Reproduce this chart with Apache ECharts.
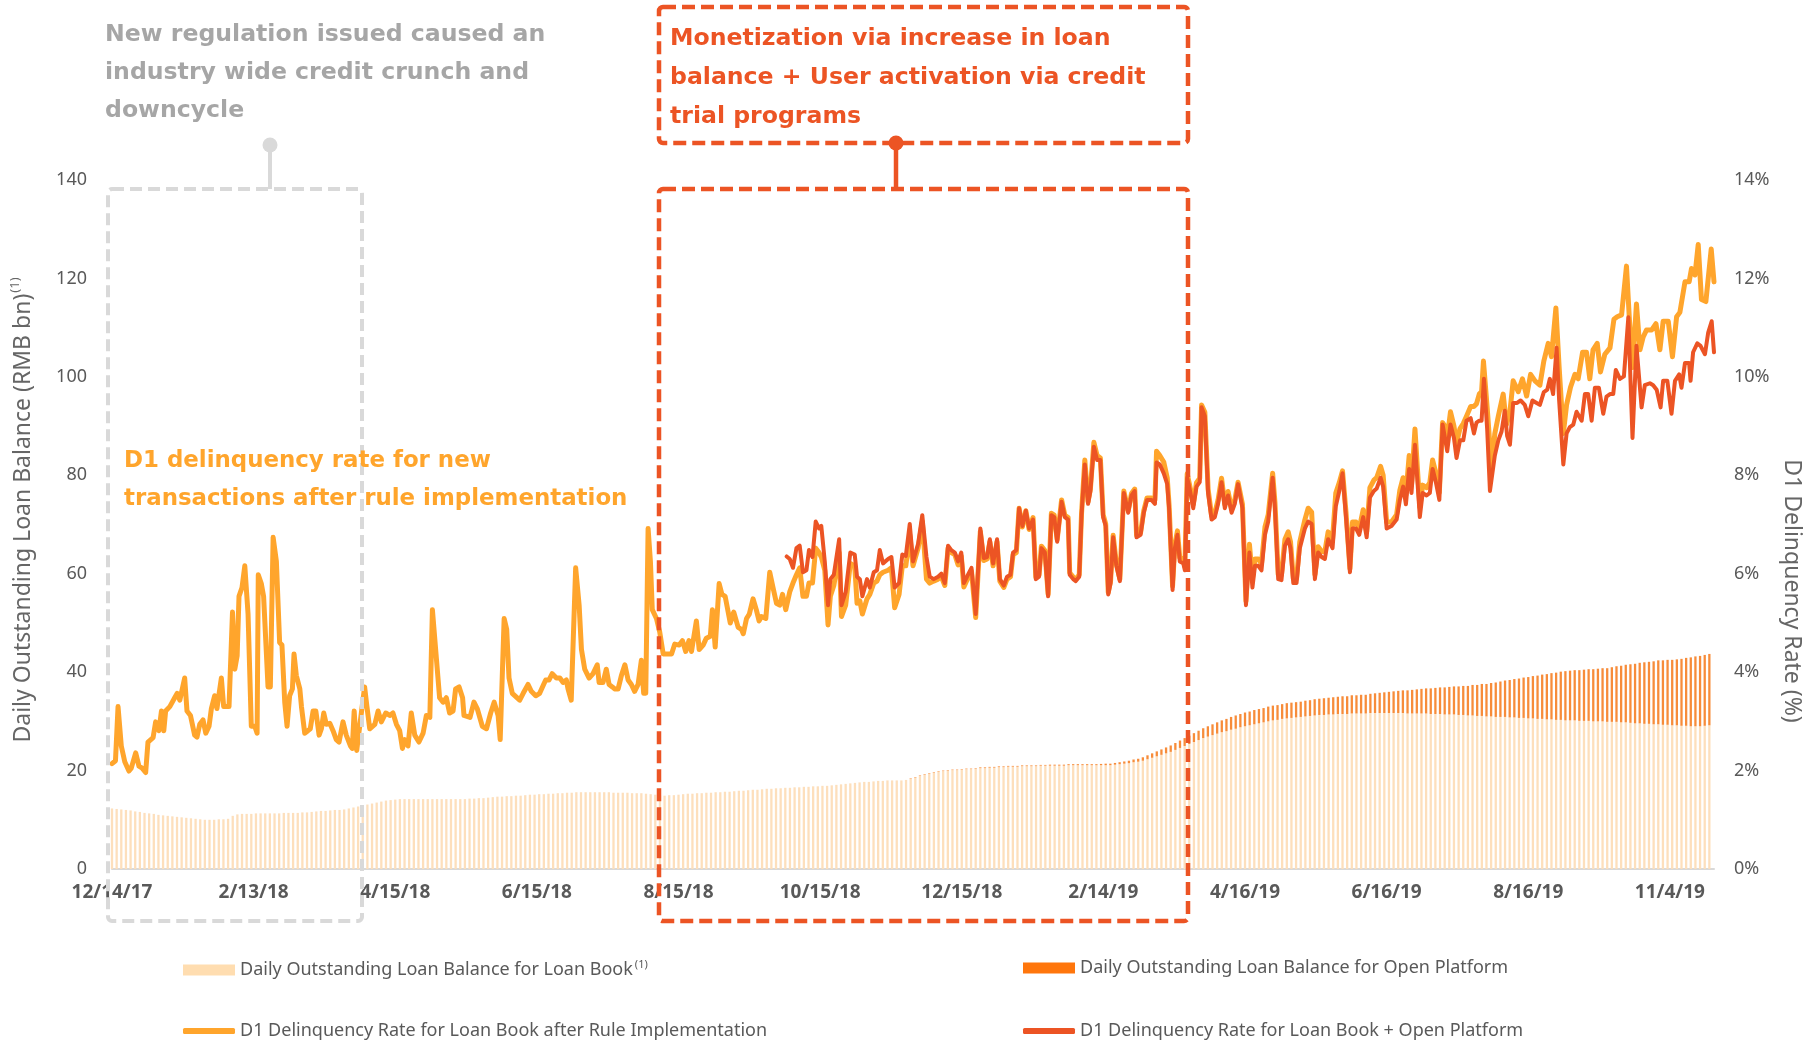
<!DOCTYPE html>
<html>
<head>
<meta charset="utf-8">
<title>Daily loan balance and D1 delinquency</title>
<script src="https://cdn.jsdelivr.net/npm/echarts@6/dist/echarts.min.js"></script>
<style>
  html, body { margin: 0; padding: 0; background: #fff; }
  #chart { width: 1816px; height: 1045px; }
</style>
</head>
<body>
<div id="chart"></div>
<script>
// x values are days since 12/14/17, one tick label every 61 days
const dateLabels = ['12/14/17', '2/13/18', '4/15/18', '6/15/18', '8/15/18', '10/15/18',
  '12/15/18', '2/14/19', '4/16/19', '6/16/19', '8/16/19', '11/4/19']
const daysPerLabel = 61
const lastDay = 690

// daily outstanding balance (RMB bn), one bar every 2 days from day 0
const balanceStepDays = 2
const loanBookBalance = [
  12.3, 12.2, 12.1, 12.0, 11.9, 11.7, 11.6, 11.4, 11.3, 11.2, 11.0, 10.9, 10.8, 10.7, 10.6,
  10.5, 10.4, 10.3, 10.2, 10.1, 10.0, 10.0, 10.0, 10.1, 10.1, 10.2, 10.8, 11.1, 11.2, 11.2,
  11.2, 11.3, 11.3, 11.3, 11.3, 11.3, 11.3, 11.4, 11.4, 11.4, 11.4, 11.5, 11.5, 11.6, 11.7,
  11.8, 11.8, 11.9, 12.0, 12.0, 12.1, 12.3, 12.5, 12.7, 12.9, 13.1, 13.3, 13.5, 13.7, 13.9,
  14.0, 14.1, 14.2, 14.2, 14.2, 14.2, 14.2, 14.2, 14.2, 14.2, 14.2, 14.2, 14.2, 14.2, 14.2,
  14.2, 14.2, 14.3, 14.3, 14.4, 14.4, 14.5, 14.6, 14.7, 14.7, 14.8, 14.8, 14.9, 14.9, 15.0,
  15.1, 15.1, 15.2, 15.2, 15.3, 15.3, 15.4, 15.4, 15.5, 15.5, 15.6, 15.6, 15.6, 15.6, 15.6,
  15.6, 15.6, 15.6, 15.5, 15.5, 15.5, 15.5, 15.4, 15.4, 15.4, 15.3, 15.2, 15.1, 15.0, 14.9,
  15.0, 15.0, 15.1, 15.2, 15.3, 15.3, 15.4, 15.4, 15.5, 15.5, 15.6, 15.6, 15.7, 15.7, 15.8,
  15.9, 15.9, 16.0, 16.1, 16.1, 16.2, 16.3, 16.3, 16.4, 16.4, 16.5, 16.5, 16.6, 16.6, 16.7,
  16.7, 16.8, 16.8, 16.9, 16.9, 17.0, 17.1, 17.2, 17.3, 17.4, 17.5, 17.6, 17.7, 17.7, 17.8,
  17.9, 17.9, 18.0, 18.0, 18.0, 18.0, 18.1, 18.3, 18.6, 18.9, 19.2, 19.4, 19.6, 19.8, 19.9,
  20.0, 20.1, 20.1, 20.2, 20.3, 20.3, 20.4, 20.5, 20.5, 20.6, 20.6, 20.7, 20.7, 20.8, 20.8,
  20.8, 20.9, 20.9, 20.9, 20.9, 21.0, 21.0, 21.0, 21.0, 21.0, 21.0, 21.1, 21.1, 21.1, 21.1,
  21.1, 21.1, 21.1, 21.1, 21.1, 21.1, 21.2, 21.3, 21.4, 21.5, 21.7, 21.8, 22.0, 22.3, 22.6,
  22.9, 23.2, 23.5, 23.8, 24.2, 24.6, 25.0, 25.4, 25.8, 26.2, 26.6, 26.9, 27.2, 27.5, 27.8,
  28.0, 28.3, 28.5, 28.8, 29.0, 29.2, 29.4, 29.6, 29.8, 30.0, 30.2, 30.3, 30.5, 30.6, 30.7,
  30.8, 30.9, 31.0, 31.1, 31.2, 31.3, 31.3, 31.4, 31.4, 31.5, 31.5, 31.5, 31.6, 31.6, 31.6,
  31.6, 31.7, 31.7, 31.7, 31.7, 31.7, 31.7, 31.7, 31.7, 31.6, 31.6, 31.6, 31.6, 31.6, 31.5,
  31.5, 31.5, 31.4, 31.4, 31.4, 31.3, 31.3, 31.2, 31.2, 31.1, 31.1, 31.0, 31.0, 30.9, 30.9,
  30.9, 30.8, 30.8, 30.7, 30.7, 30.6, 30.6, 30.5, 30.5, 30.4, 30.4, 30.3, 30.3, 30.2, 30.2,
  30.2, 30.1, 30.1, 30.1, 30.0, 30.0, 30.0, 29.9, 29.9, 29.9, 29.8, 29.8, 29.7, 29.6, 29.6,
  29.5, 29.5, 29.4, 29.4, 29.3, 29.3, 29.2, 29.2, 29.1, 29.1, 29.0, 29.0, 29.0, 29.1, 29.2
]
const openPlatformStartDay = 344
const openPlatformBalance = [
  0.1, 0.1, 0.1, 0.1, 0.1, 0.1, 0.1, 0.1, 0.1, 0.1, 0.1, 0.1, 0.1, 0.1, 0.1,
  0.15, 0.15, 0.15, 0.15, 0.15, 0.15, 0.15, 0.15, 0.15, 0.15, 0.15, 0.15, 0.15, 0.15, 0.15,
  0.2, 0.2, 0.2, 0.2, 0.2, 0.2, 0.2, 0.2, 0.2, 0.2, 0.2, 0.25, 0.3, 0.3, 0.35,
  0.4, 0.45, 0.5, 0.55, 0.6, 0.7, 0.8, 0.9, 1.0, 1.1, 1.2, 1.3, 1.4, 1.5, 1.6,
  1.7, 1.8, 1.9, 2.0, 2.1, 2.2, 2.3, 2.4, 2.5, 2.6, 2.7, 2.7, 2.8, 2.8, 2.9,
  2.9, 2.9, 3.0, 3.0, 3.0, 3.0, 3.1, 3.1, 3.1, 3.1, 3.2, 3.2, 3.3, 3.3, 3.4,
  3.4, 3.5, 3.5, 3.6, 3.6, 3.7, 3.7, 3.8, 3.8, 3.9, 4.0, 4.1, 4.2, 4.3, 4.4,
  4.5, 4.6, 4.7, 4.8, 4.9, 5.0, 5.1, 5.2, 5.3, 5.4, 5.5, 5.6, 5.7, 5.8, 5.9,
  6.0, 6.2, 6.3, 6.5, 6.6, 6.8, 7.0, 7.2, 7.4, 7.6, 7.8, 8.0, 8.2, 8.4, 8.6,
  8.8, 9.0, 9.2, 9.4, 9.6, 9.8, 10.0, 10.1, 10.2, 10.3, 10.4, 10.5, 10.6, 10.7, 10.8,
  10.9, 11.1, 11.3, 11.5, 11.7, 11.9, 12.1, 12.3, 12.5, 12.6, 12.8, 13.0, 13.1, 13.2, 13.3,
  13.4, 13.6, 13.8, 14.0, 14.2, 14.3, 14.4, 14.5
]

// D1 delinquency rate (%), [day, rate]
const loanBookRate = [
  [0, 2.14], [1.5, 2.2], [2.6, 3.30], [4, 2.50], [5.5, 2.18], [7.3, 1.99], [8.3, 2.05], [10.2, 2.36],
  [11.6, 2.09], [13, 2.05], [14.5, 1.96], [15.5, 2.58], [17.7, 2.67], [18.8, 2.99], [20.2, 2.81],
  [21.3, 3.21], [22.3, 2.81], [23.1, 3.21], [24.9, 3.30], [27, 3.48], [28.1, 3.57], [29.2, 3.43],
  [31.3, 3.88], [32.3, 3.21], [33.8, 3.12], [35.6, 2.72], [36.6, 2.68], [37.8, 2.94], [39.2, 3.03],
  [40.4, 2.76], [41.8, 2.90], [42.8, 3.26], [44.2, 3.52], [45.2, 3.26], [47.1, 3.88], [48.1, 3.30],
  [50.4, 3.30], [51.9, 5.22], [52.9, 4.06], [53.9, 4.33], [54.7, 5.54], [56, 5.72], [57.2, 6.16],
  [58.6, 5.18], [60, 2.90], [61.5, 2.90], [62.5, 2.76], [63, 5.98], [64.3, 5.80], [65.3, 5.54],
  [67.2, 3.70], [68.2, 3.70], [69.4, 6.74], [70.8, 6.25], [72.2, 4.60], [73.2, 4.55], [74.4, 3.39],
  [75.4, 2.90], [76.5, 3.52], [77.7, 3.66], [78.4, 4.37], [79.4, 3.93], [80.9, 3.66], [81.6, 3.30],
  [83, 2.76], [84.4, 2.81], [85.4, 2.85], [86.6, 3.21], [87.8, 3.21], [89.2, 2.72], [90.2, 2.85],
  [91.2, 3.17], [92.3, 2.94], [93.8, 2.96], [95.2, 2.81], [96.6, 2.63], [97.8, 2.58], [99.5, 2.99],
  [100.9, 2.72], [102.7, 2.50], [103.5, 2.45], [104.3, 3.21], [105.4, 2.41], [108.8, 3.70],
  [109.8, 3.30], [111, 2.85], [113.2, 2.94], [114.6, 3.21], [116, 2.99], [117.9, 3.17], [119.6, 3.12],
  [121, 3.17], [122.5, 2.94], [123.9, 2.81], [125.1, 2.45], [126.1, 2.63], [127.5, 2.50], [128.9, 3.17],
  [130.4, 2.72], [132.2, 2.58], [134, 2.76], [135.4, 3.12], [136.9, 3.08], [138, 5.27], [138.7, 5.27],
  [141.1, 3.48], [142.6, 3.39], [144, 3.48], [145.4, 3.17], [146.9, 3.21], [148, 3.66], [149.5, 3.70],
  [151, 3.48], [151.6, 3.12], [154.2, 3.08], [155.9, 3.39], [157.3, 3.26], [159.5, 2.90], [161.3, 2.85],
  [163.1, 3.17], [164.6, 3.39], [166.3, 3.12], [167.2, 2.63], [168.9, 5.09], [170, 4.87], [171, 3.88],
  [172.4, 3.57], [175.6, 3.43], [177.1, 3.57], [179.2, 3.75], [180.6, 3.61], [182.5, 3.52], [184.2, 3.57],
  [185.9, 3.75], [186.8, 3.84], [188.2, 3.84], [189.6, 3.97], [191.4, 3.88], [192.9, 3.88], [194.3, 3.79],
  [195.7, 3.84], [196.4, 3.66], [197.8, 3.43], [198.5, 3.43], [199.7, 6.12], [201.2, 5.36], [202.2, 4.46],
  [203.6, 4.06], [205.5, 3.88], [207.2, 3.97], [209, 4.15], [209.8, 3.79], [211.5, 3.79], [212.9, 4.06],
  [214.1, 3.75], [215.5, 3.70], [216.5, 3.66], [218, 3.66], [219.4, 3.93], [220.9, 4.15], [222.3, 3.84],
  [223.7, 3.75], [225.1, 3.61], [226.6, 3.75], [228, 4.24], [229, 3.57], [229.9, 3.57], [230.9, 6.92],
  [231.9, 6.25], [232.7, 5.27], [234.5, 5.09], [235.9, 4.82], [237.4, 4.37], [239.1, 4.37], [241, 4.37],
  [242.4, 4.57], [244.3, 4.55], [245.7, 4.64], [247.1, 4.42], [248.5, 4.64], [249.6, 4.42], [251.7, 5.04],
  [252.9, 4.46], [254.6, 4.55], [256, 4.69], [257.7, 4.73], [258.6, 5.27], [259.8, 4.51], [261.5, 5.80],
  [262.7, 5.58], [264.1, 5.54], [266.3, 5.00], [267.8, 5.22], [269.7, 4.91], [271.1, 4.87], [271.9, 4.78],
  [273.3, 5.09], [274.5, 5.18], [276.1, 5.49], [277.5, 5.27], [278.7, 5.04], [279.7, 5.13], [281.6, 5.09],
  [283.3, 6.03], [284.7, 5.72], [286.2, 5.40], [287.6, 5.36], [288.8, 5.58], [290.2, 5.27],
  [291.9, 5.63], [293.3, 5.81], [294.8, 5.98], [296.2, 6.12], [297.6, 5.54], [299.1, 5.54], [300.2, 5.81],
  [301.7, 5.81], [303.1, 6.52], [304.5, 6.43], [305.5, 6.34], [307, 6.07], [308.4, 4.96], [309.4, 5.54],
  [310.9, 5.76], [313.2, 6.43], [314.2, 5.13], [316, 5.36], [318, 6.21], [319.9, 6.16], [320.9, 5.40],
  [322.1, 5.45], [323.2, 5.18], [325.2, 5.49], [326.4, 5.58], [328.1, 5.81], [329.5, 5.85], [330.7, 5.98],
  [332.1, 6.03], [334.3, 6.07], [335.7, 6.12], [337.1, 5.31], [339, 5.58], [340.4, 6.16], [341.9, 6.16],
  [343.6, 6.79], [345, 6.16], [347.2, 6.52], [349, 7.06], [350.8, 5.89], [352.2, 5.81], [353.9, 5.85],
  [355.8, 5.89], [357.2, 5.94], [358.7, 5.76], [360.1, 6.52], [361.5, 6.43], [363, 6.39], [364.4, 6.18],
  [365.8, 6.36], [366.9, 5.73], [368.7, 5.92], [370.2, 6.05], [372, 5.11], [374, 6.86], [375.5, 6.27],
  [376.9, 6.30], [378.1, 6.65], [379.5, 6.16], [381.2, 6.65], [382.4, 5.85], [384.1, 5.72], [385.5, 5.89],
  [387, 5.94], [388.1, 6.39], [389.5, 6.43], [390.7, 7.33], [392.1, 6.95], [393.6, 7.28], [395, 6.90],
  [396.7, 7.14], [397.9, 5.93], [399.3, 5.98], [400.3, 6.56], [401.8, 6.47], [403.2, 5.58], [404.6, 7.23],
  [405.8, 7.19], [407.1, 6.69], [409, 7.50], [410.4, 7.19], [411.8, 7.14], [412.5, 6.02], [414, 5.93],
  [415.1, 5.89], [416.6, 5.98], [417.6, 7.23], [419, 8.31], [420.4, 7.46], [421.4, 7.72], [422.9, 8.67],
  [424.3, 8.40], [425.7, 8.35], [426.9, 7.20], [428, 7.01], [429.1, 5.62], [430.1, 5.85], [431.2, 6.78],
  [432.6, 6.20], [434.1, 5.89], [435.8, 7.68], [437.7, 7.28], [439.1, 7.63], [440.5, 7.72], [441.3, 6.78],
  [443, 6.83], [444.4, 7.28], [445.8, 7.54], [447.7, 7.54], [449.2, 7.50], [449.9, 8.49], [451.3, 8.40],
  [453, 8.27], [454.5, 7.95], [455.3, 7.40], [456.8, 5.75], [457.8, 6.60], [458.9, 6.87], [459.9, 6.33],
  [461.4, 6.29], [462.1, 6.15], [463.1, 8.03], [464.5, 7.72], [465.7, 7.41], [467.1, 7.85], [468.5, 7.94],
  [469.3, 9.43], [470.7, 9.28], [472.1, 7.72], [473.6, 7.18], [475, 7.23], [476.4, 7.50], [477.9, 7.94],
  [479.3, 7.41], [480.7, 7.67], [482.2, 7.32], [483.6, 7.50], [485, 7.86], [486.9, 7.41], [488.4, 5.44],
  [489.9, 6.60], [491.2, 5.90], [492.3, 6.30], [493.7, 6.30], [495.1, 6.20], [496.6, 6.95], [498, 7.20],
  [499.9, 8.04], [500.9, 7.45], [502.3, 5.98], [503.7, 5.98], [505.2, 6.70], [506.6, 6.85], [507.6, 6.65],
  [508.8, 5.90], [510.2, 5.90], [511.6, 6.65], [513.8, 7.10], [515.2, 7.33], [516.7, 7.25], [518.1, 5.98],
  [519.5, 6.55], [521, 6.45], [522.4, 6.45], [523.8, 6.85], [525.7, 6.70], [527.1, 7.64], [528.6, 7.85],
  [530, 8.09], [531.5, 7.25], [533.2, 6.10], [534.3, 7.05], [535.8, 7.05], [537.2, 6.92], [538.9, 7.30],
  [540.4, 6.85], [541.8, 7.75], [543.5, 7.90], [544.7, 7.95], [546.4, 8.18], [547.5, 8.00], [549, 7.05],
  [551.1, 7.05], [553.3, 7.20], [554.7, 7.70], [556.1, 7.95], [557.3, 7.60], [558.7, 8.40], [559.7, 7.80],
  [561.2, 8.94], [563.3, 7.35], [564.5, 7.80], [566.2, 7.75], [567.6, 7.85], [568.8, 8.31], [570.2, 8.05],
  [571.7, 7.65], [573.1, 9.07], [574.1, 9.00], [575.1, 8.75], [576.5, 9.29], [578, 9.00], [579.1, 8.65],
  [580.6, 8.95], [582, 9.05], [583.4, 9.20], [585.2, 9.40], [586.6, 9.40], [587.7, 9.45], [588.9, 9.65],
  [589.9, 9.70], [590.7, 10.32], [592.3, 9.38], [594.2, 8.13], [595.6, 8.85], [597.1, 9.20], [599.2, 9.65],
  [600.6, 9.03], [602.1, 9.29], [603.5, 9.92], [605.7, 9.70], [607.5, 9.96], [609.3, 9.61], [611, 10.05],
  [612.9, 9.92], [615, 9.83], [616.7, 10.32], [618.6, 10.68], [620, 10.41], [621.9, 11.40], [623.3, 10.19],
  [625.1, 8.85], [626.5, 9.43], [628.2, 9.79], [630.1, 10.05], [631.5, 9.96], [633.4, 10.50], [635.1, 10.50],
  [636.5, 9.96], [637.9, 10.55], [639.7, 10.68], [641.1, 10.10], [643, 10.46], [645.2, 10.59], [646.9, 11.17],
  [648.3, 11.22], [650.2, 11.26], [652.3, 12.25], [653.5, 11.22], [654.9, 10.19], [656.6, 11.48],
  [658.1, 10.55], [659.5, 10.81], [660.9, 10.95], [663.1, 10.95], [665, 11.08], [666.7, 10.55], [668.1, 11.13],
  [670.3, 11.13], [672.1, 10.41], [673.9, 11.22], [675.3, 11.31], [677.5, 11.93], [679.3, 11.93],
  [680.3, 12.20], [681.8, 12.07], [683.2, 12.69], [684.6, 11.57], [686.5, 11.53], [688.8, 12.60], [690, 11.93]
]
const combinedRate = [
  [290.6, 6.35], [291.9, 6.30], [293.3, 6.12], [294.8, 6.52], [296.2, 6.57], [297.6, 6.03], [299.1, 6.07],
  [300.2, 6.48], [301.7, 6.34], [303.1, 7.06], [304.5, 6.92], [305.5, 6.97], [307, 6.25], [308.4, 5.36],
  [309.4, 5.89], [310.9, 5.98], [313.2, 6.70], [314.2, 5.36], [316, 5.63], [318, 6.43], [319.9, 6.39],
  [320.9, 5.94], [322.1, 5.89], [323.2, 5.54], [325.2, 5.89], [326.4, 5.72], [328.1, 6.03], [329.5, 6.07],
  [330.7, 6.48], [332.1, 6.21], [334.3, 6.30], [335.7, 6.34], [337.1, 5.72], [339, 5.81], [340.4, 6.39],
  [341.9, 6.36], [343.6, 7.01], [345, 6.25], [347.2, 6.61], [349, 7.19], [350.8, 6.34], [352.2, 5.94],
  [353.9, 5.89], [355.8, 5.94], [357.2, 6.00], [358.7, 5.81], [360.1, 6.57], [361.5, 6.48], [363, 6.43],
  [364.4, 6.25], [365.8, 6.43], [366.9, 5.81], [368.7, 5.98], [370.2, 6.12], [372, 5.18], [374, 6.92],
  [375.5, 6.32], [376.9, 6.34], [378.1, 6.70], [379.5, 6.21], [381.2, 6.70], [382.4, 5.89], [384.1, 5.76],
  [385.5, 5.94], [387, 5.98], [388.1, 6.43], [389.5, 6.48], [390.7, 7.33], [392.1, 6.97], [393.6, 7.28],
  [395, 6.92], [396.7, 7.10], [397.9, 5.89], [399.3, 5.94], [400.3, 6.52], [401.8, 6.43], [403.2, 5.54],
  [404.6, 7.19], [405.8, 7.15], [407.1, 6.65], [409, 7.46], [410.4, 7.15], [411.8, 7.10], [412.5, 5.98],
  [414, 5.89], [415.1, 5.85], [416.6, 5.94], [417.6, 7.19], [419, 8.22], [420.4, 7.42], [421.4, 7.68],
  [422.9, 8.58], [424.3, 8.31], [425.7, 8.31], [426.9, 7.15], [428, 6.97], [429.1, 5.58], [430.1, 5.81],
  [431.2, 6.74], [432.6, 6.16], [434.1, 5.85], [435.8, 7.64], [437.7, 7.24], [439.1, 7.59], [440.5, 7.68],
  [441.3, 6.74], [443, 6.79], [444.4, 7.24], [445.8, 7.50], [447.7, 7.50], [449.2, 7.42], [449.9, 8.26],
  [451.3, 8.22], [453, 8.04], [454.5, 7.82], [455.3, 7.33], [456.8, 5.67], [457.8, 6.52], [458.9, 6.79],
  [459.9, 6.25], [461.4, 6.21], [462.1, 6.07], [463.1, 7.95], [464.5, 7.64], [465.7, 7.33], [467.1, 7.77],
  [468.5, 7.86], [469.3, 9.38], [470.7, 9.20], [472.1, 7.64], [473.6, 7.10], [475, 7.15], [476.4, 7.42],
  [477.9, 7.86], [479.3, 7.33], [480.7, 7.59], [482.2, 7.24], [483.6, 7.42], [485, 7.82], [486.9, 7.33],
  [488.4, 5.36], [489.9, 6.43], [491.2, 5.72], [492.3, 6.16], [493.7, 6.16], [495.1, 6.07], [496.6, 6.79],
  [498, 7.06], [499.9, 7.95], [500.9, 7.33], [502.3, 5.89], [503.7, 5.87], [505.2, 6.57], [506.6, 6.70],
  [507.6, 6.52], [508.8, 5.81], [510.2, 5.81], [511.6, 6.52], [513.8, 6.92], [515.2, 7.06], [516.7, 7.01],
  [518.1, 5.89], [519.5, 6.43], [521, 6.34], [522.4, 6.30], [523.8, 6.70], [525.7, 6.52], [527.1, 7.37],
  [528.6, 7.68], [530, 8.04], [531.5, 7.15], [533.2, 6.03], [534.3, 6.92], [535.8, 6.92], [537.2, 6.79],
  [538.9, 7.15], [540.4, 6.74], [541.8, 7.55], [543.5, 7.68], [544.7, 7.73], [546.4, 7.95], [547.5, 7.77],
  [549, 6.92], [551.1, 6.97], [553.3, 7.10], [554.7, 7.50], [556.1, 7.77], [557.3, 7.41], [558.7, 8.13],
  [559.7, 7.64], [561.2, 8.62], [563.3, 7.15], [564.5, 7.64], [566.2, 7.59], [567.6, 7.64], [568.8, 8.13],
  [570.2, 7.86], [571.7, 7.50], [573.1, 9.03], [574.1, 8.76], [575.1, 8.49], [576.5, 9.03], [578, 8.76],
  [579.1, 8.35], [580.6, 8.71], [582, 8.71], [583.4, 9.11], [585.2, 9.16], [586.6, 8.85], [587.7, 9.07],
  [588.9, 9.11], [589.9, 9.11], [590.9, 9.96], [592.3, 8.94], [593.5, 7.68], [595.6, 8.40], [597.1, 8.71],
  [598.5, 8.89], [599.9, 9.31], [600.9, 8.80], [602.1, 8.62], [603.5, 9.47], [605.2, 9.47], [606.7, 9.52],
  [608.5, 9.43], [610, 9.20], [611.8, 9.52], [613.6, 9.47], [615, 9.43], [616.7, 9.69], [618.2, 9.74],
  [619.3, 9.96], [620.7, 9.65], [622.2, 10.59], [623.3, 9.52], [625.1, 8.22], [626.5, 8.85], [627.9, 8.98],
  [629.4, 9.03], [630.8, 9.29], [633, 9.11], [634.4, 9.65], [635.8, 9.65], [637.3, 9.11], [638.7, 9.78],
  [640.4, 9.78], [642.3, 9.25], [643.7, 9.60], [645.2, 9.65], [646.6, 9.65], [647.7, 10.14], [649.5, 9.96],
  [651.2, 10.01], [653.1, 11.21], [654.9, 8.76], [656.6, 10.63], [658.8, 9.38], [660.2, 9.83], [662.4, 9.87],
  [663.8, 9.83], [665.3, 9.74], [667, 9.38], [668.1, 9.92], [669.9, 9.92], [671.7, 9.25], [673.2, 9.92],
  [675, 10.05], [676, 9.78], [677.5, 10.28], [679.3, 10.28], [679.9, 9.92], [681, 10.50], [682.8, 10.68],
  [684.2, 10.63], [686.1, 10.46], [687.5, 10.90], [689, 11.13], [690, 10.50]
]

const loanBookName = 'Daily Outstanding Loan Balance for Loan Book'
const openPlatformName = 'Daily Outstanding Loan Balance for Open Platform'
const loanBookRateName = 'D1 Delinquency Rate for Loan Book after Rule Implementation'
const combinedRateName = 'D1 Delinquency Rate for Loan Book + Open Platform'

const FONT = '"Noto Sans", "Liberation Sans", sans-serif'
const BOLD_FONT = '"DejaVu Sans", "Noto Sans", sans-serif'
const GREY_TEXT = '#595959'
const PEACH = '#FDDFBC'
const OPEN_ORANGE = '#F78C3A'
const LINE_ORANGE = '#FFA52C'
const LINE_RED = '#EC5424'
const BOX_GREY = '#D9D9D9'

const chart = echarts.init(document.getElementById('chart'), null, { renderer: 'canvas' })

// hidden category axis for the bars: one slot every 2 days, spanning day 0 .. lastDay
const barDays = []
for (let d = 0; d <= lastDay; d += balanceStepDays) barDays.push(String(d))
const openPlatformBars = barDays.map((d) => {
  const j = (Number(d) - openPlatformStartDay) / balanceStepDays
  return j >= 0 && j < openPlatformBalance.length ? openPlatformBalance[j] : 0
})

const legendBase = (left, top, name, color, h, icon) => ({
  left, top, padding: 0, selectedMode: false,
  itemWidth: 52, itemHeight: h, icon, itemGap: 0,
  data: [{ name, itemStyle: { color } }],
  formatter: (n) => n === loanBookName ? `{t|${n}}{s|(1)}` : `{t|${n}}`,
  textStyle: {
    fontFamily: FONT, fontSize: 18, color: GREY_TEXT,
    rich: {
      t: { fontFamily: FONT, fontSize: 18, color: GREY_TEXT, lineHeight: 22 },
      s: { fontFamily: FONT, fontSize: 11, color: GREY_TEXT, verticalAlign: 'top', lineHeight: 22, padding: [0, 0, 9, 2] }
    }
  }
})

const option = {
  animation: false,
  backgroundColor: '#ffffff',
  grid: { left: 112, right: 102, top: 180, bottom: 176 },
  legend: [
    legendBase(183, 959, loanBookName, '#FFDDB0', 11, 'rect'),
    legendBase(1023, 959, openPlatformName, '#FF760C', 11, 'rect'),
    legendBase(183, 1022, loanBookRateName, LINE_ORANGE, 6, 'roundRect'),
    legendBase(1023, 1022, combinedRateName, LINE_RED, 6, 'roundRect')
  ],
  xAxis: [
    {
      type: 'value',
      min: 0,
      max: lastDay,
      interval: daysPerLabel,
      axisLine: { show: true, onZero: false, lineStyle: { color: BOX_GREY, width: 2 } },
      axisTick: { show: false },
      splitLine: { show: false },
      axisLabel: {
        margin: 14,
        fontFamily: FONT,
        fontSize: 19,
        fontWeight: 'bold',
        color: GREY_TEXT,
        formatter: (value) => {
          const idx = Math.round(value / daysPerLabel)
          return Math.abs(value - idx * daysPerLabel) < 0.01 && dateLabels[idx] ? dateLabels[idx] : ''
        }
      }
    },
    {
      type: 'category',
      data: barDays,
      boundaryGap: false,
      show: false
    }
  ],
  yAxis: [
    {
      type: 'value', min: 0, max: 140, interval: 20,
      axisLine: { show: false }, axisTick: { show: false }, splitLine: { show: false },
      axisLabel: { margin: 25, fontFamily: FONT, fontSize: 18, color: GREY_TEXT }
    },
    {
      type: 'value', min: 0, max: 14, interval: 2, position: 'right',
      axisLine: { show: false }, axisTick: { show: false }, splitLine: { show: false },
      axisLabel: { margin: 20, fontFamily: FONT, fontSize: 18, color: GREY_TEXT, formatter: '{value}%' }
    }
  ],
  series: [
    {
      name: loanBookName, type: 'bar', stack: 'balance', xAxisIndex: 1, yAxisIndex: 0,
      barWidth: 2.3, data: loanBookBalance, itemStyle: { color: PEACH }, silent: true, z: 1
    },
    {
      name: openPlatformName, type: 'bar', stack: 'balance', xAxisIndex: 1, yAxisIndex: 0,
      barWidth: 2.3, data: openPlatformBars, itemStyle: { color: OPEN_ORANGE }, silent: true, z: 1
    },
    {
      name: loanBookRateName, type: 'line', xAxisIndex: 0, yAxisIndex: 1, data: loanBookRate,
      showSymbol: false, symbol: 'none', silent: true, z: 3,
      itemStyle: { color: LINE_ORANGE },
      lineStyle: { color: LINE_ORANGE, width: 5, join: 'round', cap: 'round' }
    },
    {
      name: combinedRateName, type: 'line', xAxisIndex: 0, yAxisIndex: 1, data: combinedRate,
      showSymbol: false, symbol: 'none', silent: true, z: 4,
      itemStyle: { color: LINE_RED },
      lineStyle: { color: LINE_RED, width: 4, join: 'round', cap: 'round' }
    }
  ],
  graphic: [
    // axis names
    {
      type: 'text', x: 23, y: 510, rotation: Math.PI / 2, z: 50,
      style: {
        text: '{a|Daily Outstanding Loan Balance (RMB bn)}{s|(1)}',
        align: 'center', verticalAlign: 'middle',
        rich: {
          a: { fontFamily: FONT, fontSize: 23, fill: '#666666', lineHeight: 28 },
          s: { fontFamily: FONT, fontSize: 13, fill: '#666666', verticalAlign: 'top', lineHeight: 28, padding: [0, 0, 12, 1] }
        }
      }
    },
    {
      type: 'text', x: 1792, y: 591, rotation: -Math.PI / 2, z: 50,
      style: {
        text: 'D1 Delinquency Rate (%)', align: 'center', verticalAlign: 'middle',
        font: `23px ${FONT}`, fill: '#666666'
      }
    },
    // grey annotation
    {
      type: 'rect', z: 60, silent: true,
      shape: { x: 108, y: 189, width: 254, height: 732, r: 4 },
      style: { fill: 'none', stroke: BOX_GREY, lineWidth: 4, lineDash: [12, 6] }
    },
    { type: 'line', z: 60, shape: { x1: 270, y1: 145, x2: 270, y2: 189 }, style: { stroke: BOX_GREY, lineWidth: 4 } },
    { type: 'circle', z: 61, shape: { cx: 270, cy: 145, r: 7.5 }, style: { fill: BOX_GREY } },
    {
      type: 'text', x: 105, y: 16, z: 60,
      style: {
        text: 'New regulation issued caused an\nindustry wide credit crunch and\ndowncycle',
        font: `bold 23.6px ${BOLD_FONT}`, fill: '#A6A6A6', lineHeight: 38
      }
    },
    // red annotation
    {
      type: 'rect', z: 60, silent: true,
      shape: { x: 659, y: 7, width: 529, height: 136, r: 4 },
      style: { fill: 'none', stroke: LINE_RED, lineWidth: 4.5, lineDash: [13, 6] }
    },
    {
      type: 'rect', z: 60, silent: true,
      shape: { x: 659, y: 189, width: 529, height: 732, r: 4 },
      style: { fill: 'none', stroke: LINE_RED, lineWidth: 4.5, lineDash: [13, 6] }
    },
    { type: 'line', z: 60, shape: { x1: 896, y1: 143, x2: 896, y2: 189 }, style: { stroke: LINE_RED, lineWidth: 4.5 } },
    { type: 'circle', z: 61, shape: { cx: 896, cy: 143, r: 7.5 }, style: { fill: LINE_RED } },
    {
      type: 'text', x: 670, y: 19, z: 60,
      style: {
        text: 'Monetization via increase in loan\nbalance + User activation via credit\ntrial programs',
        font: `bold 23.6px ${BOLD_FONT}`, fill: LINE_RED, lineHeight: 39
      }
    },
    // orange annotation
    {
      type: 'text', x: 124, y: 442, z: 60,
      style: {
        text: 'D1 delinquency rate for new\ntransactions after rule implementation',
        font: `bold 22.9px ${BOLD_FONT}`, fill: LINE_ORANGE, lineHeight: 38
      }
    }
  ]
}

chart.setOption(option)
</script>
</body>
</html>
